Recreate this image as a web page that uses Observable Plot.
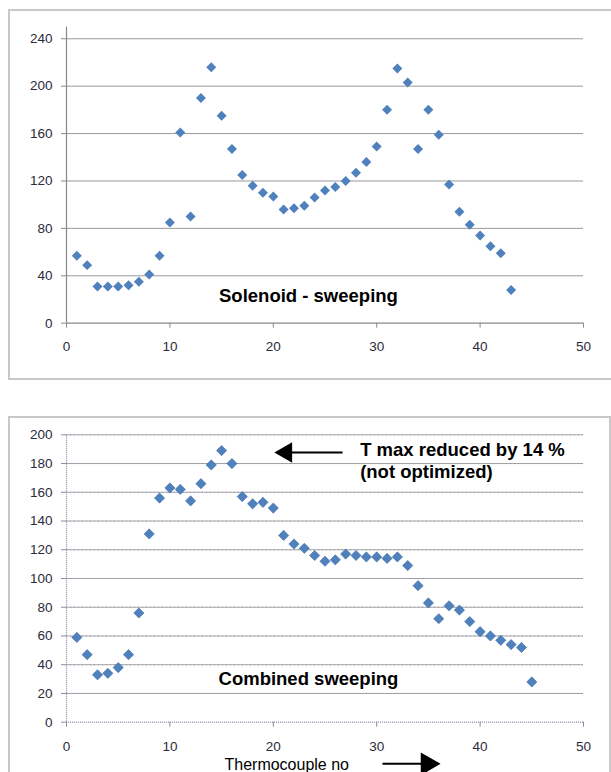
<!DOCTYPE html>
<html>
<head>
<meta charset="utf-8">
<script src="https://cdn.jsdelivr.net/npm/d3@7"></script>
<script src="https://cdn.jsdelivr.net/npm/@observablehq/plot@0.6"></script>
<style>
  html, body { margin: 0; padding: 0; background: #fff; }
  body { width: 611px; height: 772px; position: relative; overflow: hidden; font-family: "Liberation Sans", Arial, sans-serif; }
  .panel { position: absolute; }
  .frame { position: absolute; border: 2px solid #c8c8c8; box-sizing: border-box; }
  g[aria-label$="tick label"] { font-size: 13.5px; }
</style>
</head>
<body>
<div class="frame" style="left:8px; top:9px; width:610px; height:371px;"></div>
<div class="frame" style="left:8px; top:416px; width:603px; height:370px;"></div>
<div id="top" class="panel" style="left:0; top:0;"></div>
<div id="bottom" class="panel" style="left:0; top:400px;"></div>
<script>
// Thermocouple numbers and temperatures
const solenoidNo = d3.range(1, 44);
const solenoidT = [57, 49, 31, 31, 31, 32, 35, 41, 57, 85,
                   161, 90, 190, 216, 175, 147, 125, 116, 110, 107,
                   96, 97, 99, 106, 112, 115, 120, 127, 136, 149,
                   180, 215, 203, 147, 180, 159, 117, 94, 83, 74,
                   65, 59, 28];
const combinedNo = d3.range(1, 46);
const combinedT = [59, 47, 33, 34, 38, 47, 76, 131, 156, 163,
                   162, 154, 166, 179, 189, 180, 157, 152, 153, 149,
                   130, 124, 121, 116, 112, 113, 117, 116, 115, 115,
                   114, 115, 109, 95, 83, 72, 81, 78, 70, 63,
                   60, 57, 54, 52, 28];
const xTicks = [0, 10, 20, 30, 40, 50];
const yTicksTop = [0, 40, 80, 120, 160, 200, 240];
const yTicksBottom = [0, 20, 40, 60, 80, 100, 120, 140, 160, 180, 200];

const solenoid = solenoidNo.map((n, i) => ({n, t: solenoidT[i]}));
const combined = combinedNo.map((n, i) => ({n, t: combinedT[i]}));

const blue = "#4f81bd";
const FONT = "Liberation Sans, Arial, sans-serif";
const tickText = {fontSize: 13.5, fontFamily: FONT, fill: "#2b2b3a"};

const topPlot = Plot.plot({
  width: 611, height: 380,
  marginLeft: 66, marginRight: 28, marginTop: 26.4, marginBottom: 57.3,
  style: {background: "transparent", color: "#222", fontFamily: FONT},
  x: {domain: [0, 50], ticks: xTicks, label: null},
  y: {domain: [0, 250], ticks: yTicksTop, label: null},
  marks: [
    Plot.gridY(yTicksTop.filter(d => d > 0), {stroke: "#9a9a9a", strokeOpacity: 1, strokeWidth: 1}),
    Plot.ruleY([0], {stroke: "#8a8a8a", strokeWidth: 1.2}),
    Plot.ruleX([0], {stroke: "#8a8a8a", strokeWidth: 1.2}),
    Plot.axisX({ticks: xTicks, tickSize: 5, tickPadding: 13, stroke: "#8a8a8a", label: null, ...tickText}),
    Plot.axisY({ticks: yTicksTop, tickSize: 5, tickPadding: 9, stroke: "#8a8a8a", label: null, ...tickText}),
    Plot.dot(solenoid, {x: "n", y: "t", symbol: "diamond2", r: 4.5, fill: blue, stroke: "none"}),
    Plot.text(["Solenoid - sweeping"], {x: 23.4, y: 22.5, text: d => d, fontSize: 18.5, fontWeight: "bold", fill: "#000", textAnchor: "middle", fontFamily: FONT})
  ]
});
document.getElementById("top").appendChild(topPlot);

const gridStroke = "#8e88a6";
const bottomPlot = Plot.plot({
  width: 611, height: 372,
  marginLeft: 66, marginRight: 28, marginTop: 34.3, marginBottom: 50.3,
  style: {background: "transparent", color: "#222", overflow: "visible", fontFamily: FONT},
  x: {domain: [0, 50], ticks: xTicks, label: null},
  y: {domain: [0, 200], ticks: yTicksBottom, label: null},
  marks: [
    Plot.gridY(yTicksBottom.filter(d => d > 0), {stroke: "#a4a4a4", strokeOpacity: 1, strokeWidth: 1}),
    Plot.gridY(yTicksBottom.filter(d => d > 0), {stroke: gridStroke, strokeOpacity: 0.8, strokeWidth: 1, strokeDasharray: "1,3"}),
    Plot.ruleY([0], {stroke: gridStroke, strokeWidth: 1.2, strokeDasharray: "1,1"}),
    Plot.ruleX([0], {stroke: gridStroke, strokeWidth: 1.2, strokeDasharray: "1,1"}),
    Plot.axisX({ticks: xTicks, tickSize: 5, tickPadding: 14, stroke: gridStroke, label: null, ...tickText}),
    Plot.axisY({ticks: yTicksBottom, tickSize: 5, tickPadding: 9, stroke: gridStroke, label: null, ...tickText}),
    Plot.dot(combined, {x: "n", y: "t", symbol: "diamond2", r: 4.6, fill: blue, stroke: "#3a6aa6", strokeWidth: 0.6}),
    Plot.text(["Combined sweeping"], {x: 23.4, y: 29.7, text: d => d, fontSize: 18.5, fontWeight: "bold", fill: "#000", textAnchor: "middle", fontFamily: FONT}),
    Plot.text(["T max reduced by 14 %\n(not optimized)"], {x: 28.4, y: 196.3, text: d => d, fontSize: 18.5, fontWeight: "bold", fill: "#000", textAnchor: "start", lineAnchor: "top", lineHeight: 1.2, fontFamily: FONT}),
    // annotation arrow pointing left
    Plot.link([0], {x1: 26.7, x2: 21.6, y1: 187.7, y2: 187.7, stroke: "#000", strokeWidth: 2}),
    Plot.dot([0], {x: 21.25, y: 187.7, symbol: "triangle", r: 7.6, fill: "#000", stroke: "none", rotate: -90}),
    // x axis title and arrow pointing right
    Plot.text(["Thermocouple no"], {x: 21.3, y: -29.6, text: d => d, fontSize: 16, fill: "#000", textAnchor: "middle", fontFamily: FONT, clip: false}),
    Plot.link([0], {x1: 30.56, x2: 34.3, y1: -29, y2: -29, stroke: "#000", strokeWidth: 2, clip: false}),
    Plot.dot([0], {x: 34.9, y: -29, symbol: "triangle", r: 8.5, fill: "#000", stroke: "none", rotate: 90, clip: false})
  ]
});
document.getElementById("bottom").appendChild(bottomPlot);
</script>
</body>
</html>
